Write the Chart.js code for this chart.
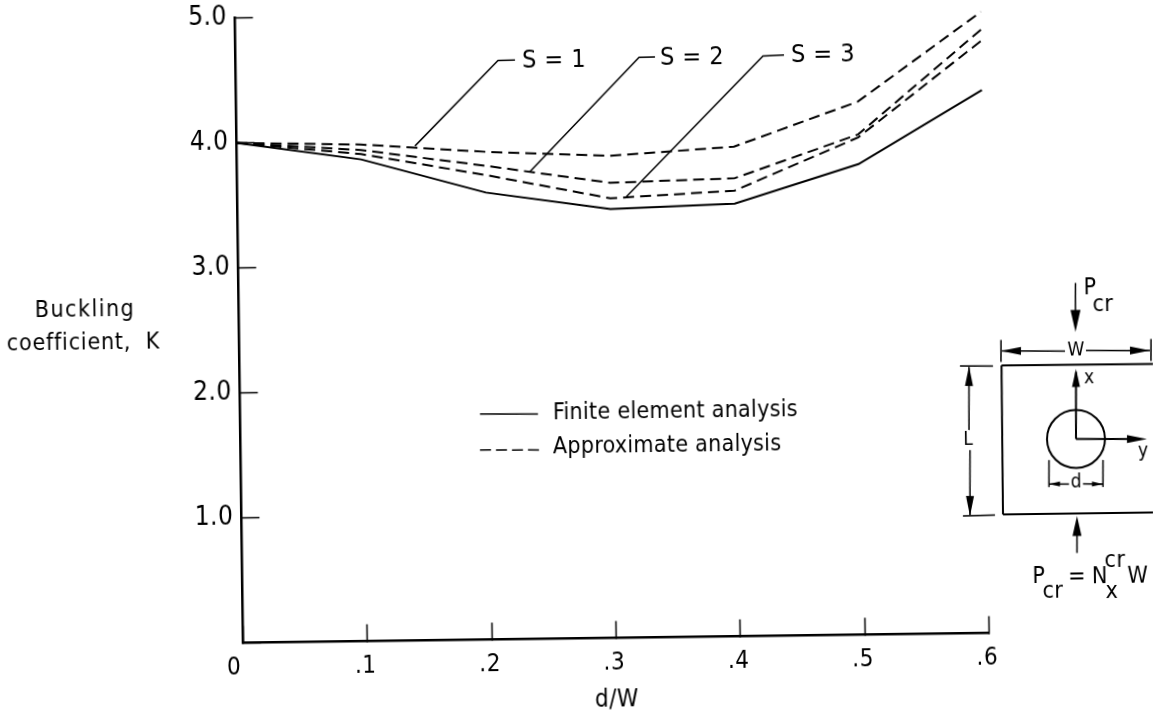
<!DOCTYPE html>
<html>
<head>
<meta charset="utf-8">
<title>Buckling coefficient</title>
<script src="https://cdn.jsdelivr.net/npm/chart.js@4"></script>
<style>
  html, body { margin: 0; padding: 0; background: #fff; overflow: hidden; }
  /* the reference is a slightly crooked scan, so the whole sheet is tilted */
  #wrap { width: 1153px; height: 717px; transform: rotate(-0.75deg); }
</style>
</head>
<body>
<div id="wrap"><canvas id="bucklingChart" width="1153" height="717"></canvas></div>
<script>
const dOverW = [0, 0.1, 0.2, 0.3, 0.4, 0.5, 0.6];
const finiteElement = [4.0, 3.855, 3.577, 3.432, 3.462, 3.766, 4.345];
const approxS1 = [4.0, 3.974, 3.903, 3.858, 3.918, 4.265, 4.971];
const approxS2 = [4.0, 3.93, 3.791, 3.642, 3.665, 4.003, 4.83];
const approxS3 = [4.0, 3.898, 3.717, 3.518, 3.566, 3.979, 4.74];
const xTickLabels = ['0  ', '.1', '.2', '.3', '.4', '.5', '.6'];
const yTickLabels = ['', '1.0', '2.0', '3.0', '4.0', '5.0'];

const INK = '#000';
const FONT = '"DejaVu Sans Condensed", "Liberation Sans", sans-serif';
const TILT = 0.75 * Math.PI / 180;

// reference picture coordinates -> untilted canvas coordinates
function P(sx, sy) {
    const dx = sx - 576.5, dy = sy - 358.5;
    return [576.5 + dx * Math.cos(TILT) - dy * Math.sin(TILT),
            358.5 + dx * Math.sin(TILT) + dy * Math.cos(TILT)];
}

function line(ctx, pts, width, dash) {
    ctx.save();
    ctx.strokeStyle = INK;
    ctx.lineWidth = width || 1.5;
    ctx.setLineDash(dash || []);
    ctx.beginPath();
    pts.forEach((p, i) => {
        const c = P(p[0], p[1]);
        if (i === 0) ctx.moveTo(c[0], c[1]); else ctx.lineTo(c[0], c[1]);
    });
    ctx.stroke();
    ctx.restore();
}

function text(ctx, str, sx, sy, size, align, spacing) {
    const c = P(sx, sy);
    ctx.save();
    ctx.fillStyle = INK;
    ctx.font = size + 'px ' + FONT;
    ctx.textAlign = align || 'left';
    ctx.textBaseline = 'middle';
    ctx.letterSpacing = (spacing === undefined ? 0.5 : spacing) + 'px';
    ctx.fillText(str, c[0], c[1]);
    ctx.restore();
}

// filled arrow head with its tip at (x, y), pointing along (ux, uy)
function head(ctx, x, y, ux, uy, len, half) {
    const bx = x - ux * len, by = y - uy * len;
    const a = P(x, y), b = P(bx - uy * half, by + ux * half), c = P(bx + uy * half, by - ux * half);
    ctx.save();
    ctx.fillStyle = INK;
    ctx.beginPath();
    ctx.moveTo(a[0], a[1]);
    ctx.lineTo(b[0], b[1]);
    ctx.lineTo(c[0], c[1]);
    ctx.closePath();
    ctx.fill();
    ctx.restore();
}

const notes = {
    id: 'notes',
    beforeDraw(chart) {
        chart.ctx.letterSpacing = '0.5px';
    },
    afterDraw(chart) {
        const ctx = chart.ctx;

        // leaders for the S labels
        line(ctx, [[415, 146], [498, 60.5], [515, 60]]);
        line(ctx, [[530, 171.5], [639, 57.5], [655, 57]]);
        line(ctx, [[626, 197], [763, 56], [784, 55]]);
        text(ctx, 'S = 1', 522, 61, 25);
        text(ctx, 'S = 2', 660, 58, 25);
        text(ctx, 'S = 3', 791, 56, 25);

        // y axis title
        text(ctx, 'Buckling', 85, 310, 23, 'center', 1.5);
        text(ctx, 'coefficient,  K', 83.5, 343, 23, 'center', 0.8);

        // key
        line(ctx, [[480, 414], [538, 414]], 1.5);
        line(ctx, [[480, 450], [541, 450]], 1.5, [11, 5]);
        text(ctx, 'Finite element analysis', 553, 413, 23, 'left', 0.3);
        text(ctx, 'Approximate analysis', 553, 447, 23, 'left', 0.3);

        // panel sketch
        line(ctx, [[1001.5, 365.5], [1153, 364]], 2);
        line(ctx, [[1001.5, 365.5], [1003, 514.5]], 2);
        line(ctx, [[1003, 514.5], [1153, 512.5]], 2);
        ctx.save();
        const cc = P(1076, 439);
        ctx.strokeStyle = INK;
        ctx.lineWidth = 2;
        ctx.beginPath();
        ctx.arc(cc[0], cc[1], 29, 0, Math.PI * 2);
        ctx.stroke();
        ctx.restore();

        // W dimension
        line(ctx, [[1001, 340], [1001, 362]]);
        line(ctx, [[1151, 339], [1151, 361]]);
        line(ctx, [[1002, 351], [1065, 351]]);
        line(ctx, [[1086, 350.5], [1150, 350.5]]);
        head(ctx, 1001, 351, -1, 0, 20, 4);
        head(ctx, 1150, 350.5, 1, 0, 20, 4);
        text(ctx, 'W', 1076, 351, 19, 'center', 0);

        // L dimension
        line(ctx, [[960, 366], [993, 366]]);
        line(ctx, [[963, 516], [995, 515]]);
        line(ctx, [[969, 367], [969, 430]]);
        line(ctx, [[970, 450], [970, 515]]);
        head(ctx, 969, 366, 0, -1, 20, 4);
        head(ctx, 970, 516, 0, 1, 20, 4);
        text(ctx, 'L', 968, 440, 19, 'center', 0);

        // x and y arrows
        line(ctx, [[1076, 439], [1076, 372]], 2);
        head(ctx, 1076, 369, 0, -1, 18, 4);
        text(ctx, 'x', 1089, 378, 19, 'center', 0);
        line(ctx, [[1076, 439], [1130, 439]], 2);
        head(ctx, 1147, 439, 1, 0, 20, 4);
        text(ctx, 'y', 1143, 452, 19, 'center', 0);

        // d dimension
        line(ctx, [[1049, 460], [1049, 487]]);
        line(ctx, [[1103, 460], [1103, 487]]);
        line(ctx, [[1049, 484], [1069, 484]]);
        line(ctx, [[1083, 484], [1103, 484]]);
        head(ctx, 1049, 484, -1, 0, 11, 2.5);
        head(ctx, 1103, 484, 1, 0, 11, 2.5);
        text(ctx, 'd', 1076, 483, 19, 'center', 0);

        // loads
        line(ctx, [[1075.5, 283], [1075.5, 312]]);
        head(ctx, 1075.5, 332, 0, 1, 22, 5);
        line(ctx, [[1077, 535], [1077, 553]]);
        head(ctx, 1077, 516, 0, -1, 20, 4.5);
        text(ctx, 'P', 1090, 288, 23, 'center');
        text(ctx, 'cr', 1103, 305, 23, 'center');
        text(ctx, 'P', 1039, 577, 23, 'center');
        text(ctx, 'cr', 1053, 592, 23, 'center');
        text(ctx, '=', 1077, 577, 23, 'center');
        text(ctx, 'N', 1100, 577, 23, 'center');
        text(ctx, 'cr', 1115, 561, 23, 'center');
        text(ctx, 'x', 1112, 592, 23, 'center');
        text(ctx, 'W', 1138, 577, 23, 'center');
    }
};

function series(values, dashed) {
    return {
        data: values.map((v, i) => ({ x: dOverW[i], y: v })),
        borderColor: INK,
        borderWidth: 2,
        borderDash: dashed ? [11, 6] : [],
        pointRadius: 0,
        tension: 0,
        clip: false
    };
}

new Chart(document.getElementById('bucklingChart').getContext('2d'), {
    type: 'line',
    plugins: [notes],
    data: {
        datasets: [series(finiteElement, false), series(approxS1, true), series(approxS2, true), series(approxS3, true)]
    },
    options: {
        responsive: false,
        animation: false,
        layout: { padding: { left: 179.4, right: 167.6, top: 13.5, bottom: 0 } },
        plugins: { legend: { display: false }, tooltip: { enabled: false } },
        scales: {
            x: {
                type: 'linear',
                min: 0,
                max: 0.6,
                afterFit: s => { s.height = 78.5; s.paddingLeft = 0; s.paddingRight = 0; },
                afterBuildTicks: s => { s.ticks = dOverW.map(v => ({ value: v })); },
                border: { color: INK, width: 2.5 },
                grid: { drawOnChartArea: false, tickLength: -17, tickWidth: 1.5, tickColor: INK },
                ticks: {
                    color: INK,
                    padding: 28,
                    maxRotation: 0,
                    autoSkip: false,
                    labelOffset: -2,
                    font: { family: FONT, size: 24 },
                    callback: (v, i) => xTickLabels[i]
                },
                title: { display: true, text: 'd/W', color: INK, padding: { top: -8, bottom: 2 }, font: { family: FONT, size: 24 } }
            },
            y: {
                min: 0,
                max: 5,
                afterFit: s => { s.width = 60; s.paddingTop = 0; s.paddingBottom = 0; },
                afterBuildTicks: s => { s.ticks = [0, 1, 2, 3, 4, 5].map(v => ({ value: v })); },
                border: { color: INK, width: 2.5 },
                grid: { drawOnChartArea: false, tickLength: -18, tickWidth: 1.5, tickColor: INK },
                ticks: {
                    color: INK,
                    padding: 26,
                    font: { family: FONT, size: 26 },
                    callback: (v, i) => yTickLabels[i]
                }
            }
        }
    }
});
</script>
</body>
</html>
